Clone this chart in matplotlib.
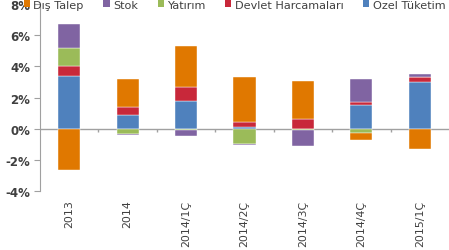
import numpy as np
import matplotlib
matplotlib.use('Agg')
import matplotlib.pyplot as plt
from matplotlib.patches import Patch

plt.rcParams['font.family'] = ['DejaVu Sans']

categories = ['2013', '2014', '2014/1Ç', '2014/2Ç', '2014/3Ç', '2014/4Ç', '2015/1Ç']

# contributions to growth, percentage points (stack order bottom -> top)
ozel_tuketim = [3.36, 0.86, 1.76, 0.15, 0.00, 1.54, 3.00]
devlet = [0.69, 0.54, 0.90, 0.32, 0.62, 0.21, 0.30]
yatirim = [1.14, -0.32, -0.05, -0.96, -0.10, -0.28, 0.00]
stok = [1.54, -0.08, -0.40, -0.10, -1.00, 1.44, 0.21]
dis_talep = [-2.64, 1.80, 2.68, 2.83, 2.46, -0.43, -1.27]

series = [
    ('Özel Tüketim', ozel_tuketim, '#4F81BD'),
    ('Devlet Harcamaları', devlet, '#C8283A'),
    ('Yatırım', yatirim, '#9BBB59'),
    ('Stok', stok, '#8064A2'),
    ('Dış Talep', dis_talep, '#E07800'),
]
legend_order = ['Dış Talep', 'Stok', 'Yatırım', 'Devlet Harcamaları', 'Özel Tüketim']

fig = plt.figure(figsize=(4.49, 2.51), dpi=100)
ax = fig.add_axes([0.089, 0.234, 0.911, 0.746])

x = np.arange(len(categories))
pos_bottom = np.zeros(len(categories))
neg_bottom = np.zeros(len(categories))
for name, vals, col in series:
    v = np.array(vals)
    bottom = np.where(v >= 0, pos_bottom, neg_bottom)
    ax.bar(x, v, 0.38, bottom=bottom, color=col, edgecolor='white', linewidth=0.3, zorder=2)
    pos_bottom += np.where(v >= 0, v, 0)
    neg_bottom += np.where(v < 0, v, 0)

ax.set_xlim(-0.5, len(categories) - 0.5)
ax.set_ylim(-4, 8)
ax.set_yticks(np.arange(-4, 9, 2))
ax.set_yticklabels([f'{t}%' for t in range(-4, 9, 2)])

# zero line with small ticks between the categories
ax.axhline(0, color='#A0A0A0', linewidth=1, zorder=1)
ax.vlines(x[:-1] + 0.5, -0.22, 0, color='#A0A0A0', linewidth=1, zorder=1)

ax.set_xticks(x)
ax.set_xticklabels(categories, rotation=90, va='top')

for s in ['top', 'right', 'bottom']:
    ax.spines[s].set_visible(False)
ax.spines['left'].set_color('#A0A0A0')
ax.tick_params(axis='x', length=0, pad=6, labelsize=7.9, labelcolor='#404040')
ax.tick_params(axis='y', length=4, color='#A0A0A0', direction='out', pad=3,
               labelsize=8.5, labelcolor='#404040')
for lbl in ax.get_yticklabels():
    lbl.set_fontweight('bold')

colors = {n: c for n, _, c in series}
handles = [Patch(facecolor=colors[n], label=n) for n in legend_order]
fig.legend(handles=handles, loc='center left', bbox_to_anchor=(0.053, 0.977), ncol=5,
           frameon=False, fontsize=8.1, handlelength=0.55, handleheight=0.55,
           handletextpad=0.3, columnspacing=1.75, borderaxespad=0, borderpad=0,
           labelcolor='#404040')

fig.savefig('out.png', dpi=100)
